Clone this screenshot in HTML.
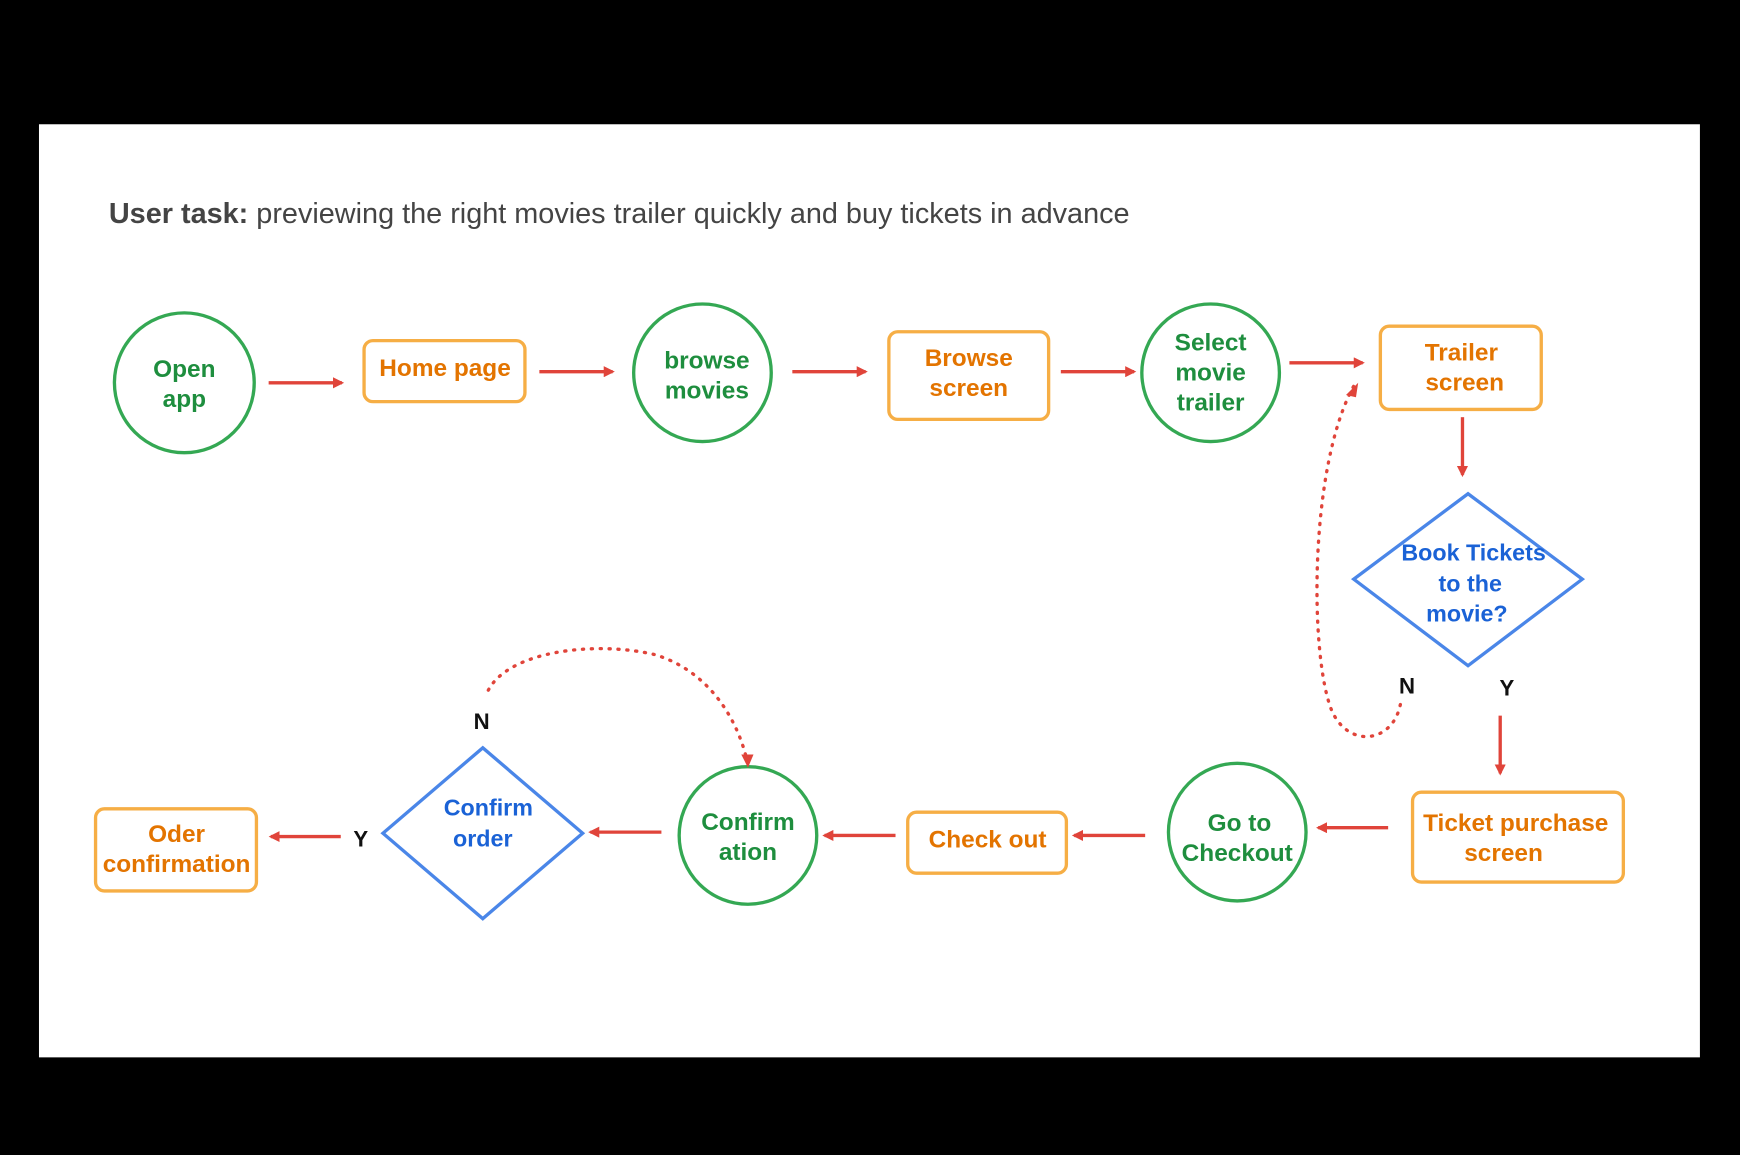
<!DOCTYPE html>
<html><head><meta charset="utf-8"><style>
html,body{margin:0;padding:0;background:#000;width:1740px;height:1155px;overflow:hidden}
svg{display:block}
text{font-family:"Liberation Sans",sans-serif;font-weight:bold;text-anchor:middle}
.g{fill:#1e8e3e;font-size:22px}
.o{fill:#e37400;font-size:22px}
.b{fill:#1a62d6;font-size:21px}
.gc{fill:#fff;stroke:#34a853;stroke-width:3}
.or{fill:#fff;stroke:#f6ae45;stroke-width:3}
.dm{fill:#fff;stroke:#4a86e8;stroke-width:3}
.ar{stroke:#e0443a;stroke-width:3;fill:none}
.dt{stroke:#e0443a;stroke-width:3;fill:none;stroke-dasharray:1 7;stroke-linecap:round}
</style></head><body>
<svg width="1740" height="1155" viewBox="0 0 1568 1041" xmlns="http://www.w3.org/2000/svg">
<defs><marker id="a" markerWidth="10" markerHeight="10" refX="8" refY="5" orient="auto" markerUnits="userSpaceOnUse"><path d="M0,0 L10,5 L0,10 z" fill="#e0443a"/></marker></defs>
<rect x="0" y="0" width="1568" height="1041" fill="#000"/>
<rect x="35" y="112" width="1497" height="841" fill="#fff"/>
<text x="98" y="201" style="text-anchor:start;font-weight:normal;font-size:26px;fill:#444"><tspan style="font-weight:bold">User task:</tspan> previewing the right movies trailer quickly and buy tickets in advance</text>

<circle class="gc" cx="166" cy="345" r="63"/><text class="g" x="166" y="340">Open</text><text class="g" x="166" y="367">app</text>
<line class="ar" x1="242" y1="345" x2="308" y2="345" marker-end="url(#a)"/>
<rect class="or" x="328" y="307" width="145" height="55" rx="8"/><text class="o" x="401" y="339">Home page</text>
<line class="ar" x1="486" y1="335" x2="552" y2="335" marker-end="url(#a)"/>
<circle class="gc" cx="633" cy="336" r="62"/><text class="g" x="637" y="332">browse</text><text class="g" x="637" y="359">movies</text>
<line class="ar" x1="714" y1="335" x2="780" y2="335" marker-end="url(#a)"/>
<rect class="or" x="801" y="299" width="144" height="79" rx="8"/><text class="o" x="873" y="330">Browse</text><text class="o" x="873" y="357">screen</text>
<line class="ar" x1="956" y1="335" x2="1022" y2="335" marker-end="url(#a)"/>
<circle class="gc" cx="1091" cy="336" r="62"/><text class="g" x="1091" y="316">Select</text><text class="g" x="1091" y="343">movie</text><text class="g" x="1091" y="370">trailer</text>
<line class="ar" x1="1162" y1="327" x2="1228" y2="327" marker-end="url(#a)"/>
<rect class="or" x="1244" y="294" width="145" height="75" rx="8"/><text class="o" x="1317" y="325">Trailer</text><text class="o" x="1320" y="352">screen</text>
<line class="ar" x1="1318" y1="376" x2="1318" y2="428" marker-end="url(#a)"/>
<polygon class="dm" points="1323,445 1426,522 1323,600 1220,522"/>
<text class="b" x="1328" y="505">Book Tickets</text><text class="b" x="1325" y="533">to the</text><text class="b" x="1322" y="560">movie?</text>
<text x="1268" y="625" style="font-size:20px;fill:#111">N</text><text x="1358" y="627" style="font-size:20px;fill:#111">Y</text>
<path class="dt" d="M1262,635 C1255,670 1215,675 1200,640 C1180,590 1180,420 1220,348"/>
<path d="M1213,356 L1224,345 L1222,358 z" fill="#e0443a"/>
<line class="ar" x1="1352" y1="645" x2="1352" y2="697" marker-end="url(#a)"/>
<rect class="or" x="1273" y="714" width="190" height="81" rx="8"/><text class="o" x="1366" y="749">Ticket purchase</text><text class="o" x="1355" y="776">screen</text>
<line class="ar" x1="1251" y1="746" x2="1188" y2="746" marker-end="url(#a)"/>
<circle class="gc" cx="1115" cy="750" r="62"/><text class="g" x="1117" y="749">Go to</text><text class="g" x="1115" y="776">Checkout</text>
<line class="ar" x1="1032" y1="753" x2="968" y2="753" marker-end="url(#a)"/>
<rect class="or" x="818" y="732" width="143" height="55" rx="8"/><text class="o" x="890" y="764">Check out</text>
<line class="ar" x1="807" y1="753" x2="743" y2="753" marker-end="url(#a)"/>
<circle class="gc" cx="674" cy="753" r="62"/><text class="g" x="674" y="748">Confirm</text><text class="g" x="674" y="775">ation</text>
<line class="ar" x1="596" y1="750" x2="532" y2="750" marker-end="url(#a)"/>
<polygon class="dm" points="435,674 525,751 435,828 345,751"/>
<text class="b" x="440" y="735">Confirm</text><text class="b" x="435" y="763">order</text>
<text x="434" y="657" style="font-size:20px;fill:#111">N</text>
<path class="dt" d="M440,622 C460,585 540,578 590,590 C640,605 665,650 673,685"/>
<path d="M668,680 L674,692 L679,680 z" fill="#e0443a"/>
<text x="325" y="763" style="font-size:20px;fill:#111">Y</text>
<line class="ar" x1="307" y1="754" x2="244" y2="754" marker-end="url(#a)"/>
<rect class="or" x="86" y="729" width="145" height="74" rx="8"/><text class="o" x="159" y="759">Oder</text><text class="o" x="159" y="786">confirmation</text>
</svg>
</body></html>
